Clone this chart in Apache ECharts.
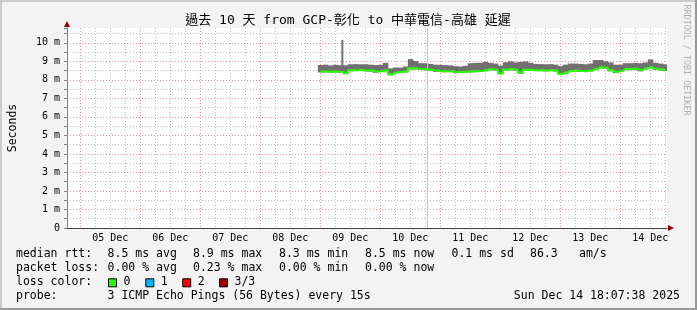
<!DOCTYPE html>
<html><head><meta charset="utf-8">
<script src="https://cdn.jsdelivr.net/npm/echarts@6/dist/echarts.min.js"></script>
<style>html,body{margin:0;padding:0;background:#f3f3f3}#c{width:697px;height:310px}</style>
</head><body><div id="c"></div>
<script>
// ---------- data ----------
const titleText = '過去 10 天 from GCP-彰化 to 中華電信-高雄 延遲';
const yName = 'Seconds';
// x values are hours since 04 Dec 00:00
const viewStart = 18 + 40 / 60;      // 04 Dec 18:40
const viewEnd = viewStart + 240;     // 10 days later
const dayLabelHours = [36, 60, 84, 108, 132, 156, 180, 204, 228, 252];
const dayLabels = ['05 Dec', '06 Dec', '07 Dec', '08 Dec', '09 Dec', '10 Dec', '11 Dec', '12 Dec', '13 Dec', '14 Dec'];
const yMax = 10.8;
const yTickValues = [0, 1, 2, 3, 4, 5, 6, 7, 8, 9, 10];

const sampleStart = 120;   // 09 Dec 00:00
const sampleStep = 2;      // hours
// values in ms
const med = [8.45,8.45,8.44,8.45,8.43,8.37,8.52,8.52,8.53,8.51,
  8.50,8.45,8.47,8.52,8.30,8.40,8.42,8.45,8.63,8.62,
  8.58,8.57,8.54,8.50,8.47,8.46,8.47,8.41,8.42,8.44,
  8.45,8.47,8.48,8.52,8.58,8.55,8.36,8.56,8.58,8.56,
  8.40,8.55,8.54,8.52,8.52,8.51,8.52,8.50,8.32,8.40,
  8.48,8.50,8.48,8.47,8.50,8.60,8.68,8.66,8.52,8.42,
  8.48,8.58,8.58,8.60,8.52,8.62,8.68,8.60,8.56,8.52];
const hi = [8.80,8.82,8.78,8.81,8.79,8.79,8.84,8.85,8.84,8.84,
  8.82,8.80,8.81,8.92,8.62,8.66,8.66,8.72,9.12,9.02,
  8.90,8.90,8.86,8.82,8.81,8.80,8.78,8.74,8.72,8.76,
  8.90,8.92,8.92,8.97,8.92,8.88,8.77,8.95,9.00,8.94,
  8.97,9.00,8.92,8.86,8.85,8.84,8.85,8.82,8.74,8.82,
  8.88,8.88,8.86,8.84,8.88,9.07,9.07,9.00,8.94,8.82,
  8.82,8.90,8.90,8.92,8.90,8.94,9.10,8.92,8.88,8.84];
const lo = [8.40,8.40,8.39,8.40,8.38,8.30,8.46,8.47,8.48,8.46,
  8.44,8.38,8.42,8.45,8.24,8.35,8.37,8.40,8.56,8.56,
  8.53,8.52,8.49,8.43,8.42,8.41,8.42,8.36,8.37,8.39,
  8.40,8.42,8.43,8.46,8.52,8.50,8.30,8.50,8.52,8.50,
  8.33,8.49,8.49,8.47,8.47,8.46,8.47,8.45,8.26,8.34,
  8.43,8.45,8.43,8.42,8.45,8.53,8.62,8.60,8.46,8.36,
  8.43,8.52,8.52,8.54,8.46,8.56,8.62,8.54,8.50,8.47];
const spikeTime = 128.8;
const spikeRange = [8.75, 10.16];
const markerTime = 162.95;

const statLabels = ['median rtt:', 'packet loss:', 'loss color:', 'probe:'];
const rttStats = ['8.5 ms avg', '8.9 ms max', '8.3 ms min', '8.5 ms now', '0.1 ms sd', '86.3', 'am/s'];
const lossStats = ['0.00 % avg', '0.23 % max', '0.00 % min', '0.00 % now'];
const lossColorNames = ['0', '1', '2', '3/3'];
const lossColors = ['#26ff00', '#00b8ff', '#ff0000', '#a00000'];
const probeText = '3 ICMP Echo Pings (56 Bytes) every 15s';
const dateText = 'Sun Dec 14 18:07:38 2025';
const watermark = 'RRDTOOL / TOBI OETIKER';

// ---------- layout / style ----------
const FONT = '"DejaVu Sans Mono", "Noto Sans CJK TC", monospace';
const RED = 'rgba(240,110,110,0.75)';
const GRAY = 'rgba(170,170,170,0.75)';
const gridLeft = 67, gridTop = 28, gridRight = 30, gridBottom = 82;

const gridTicks = [];
for (let h = 24; h < viewEnd; h += 6) gridTicks.push(h);

const times = med.map((_, i) => sampleStart + i * sampleStep);
const smokeData = times.map((t, i) => [t, lo[i], hi[i]]);
const medData = times.map((t, i) => [t, med[i]]);

const rowY = [254.3, 268.3, 282.3, 296.3];
const colX = [107.6, 193, 279, 365, 451.5, 530, 579];
const boxX = [108, 145.3, 182.2, 219];

const graphics = [];
// frame shading
graphics.push({type:'rect', shape:{x:0,y:0,width:697,height:2}, style:{fill:'#cbcbcb'}, silent:true});
graphics.push({type:'rect', shape:{x:0,y:0,width:2,height:310}, style:{fill:'#cbcbcb'}, silent:true});
graphics.push({type:'rect', shape:{x:0,y:308,width:697,height:2}, style:{fill:'#999999'}, silent:true});
graphics.push({type:'rect', shape:{x:695,y:0,width:2,height:310}, style:{fill:'#999999'}, silent:true});
function txt(x, y, s, size, opts) {
  return Object.assign({type:'text', x:x, y:y, silent:true,
    style:Object.assign({text:s, font:size + 'px ' + FONT, fill:'#000', textAlign:'left', textVerticalAlign:'middle'}, opts || {})});
}
graphics.push(txt(348, 21, titleText, 13, {textAlign:'center'}));
graphics.push({type:'text', x:686, y:60, rotation:-Math.PI/2, silent:true,
  style:{text:watermark, font:'8.4px ' + FONT, fill:'#b0b0b0', textAlign:'center', textVerticalAlign:'middle'}});
statLabels.forEach((s, i) => graphics.push(txt(16, rowY[i], s, 11.5)));
rttStats.forEach((s, i) => graphics.push(txt(colX[i], rowY[0], s, 11.5)));
lossStats.forEach((s, i) => graphics.push(txt(colX[i], rowY[1], s, 11.5)));
lossColorNames.forEach((s, i) => {
  graphics.push({type:'rect', shape:{x:boxX[i] + 0.5, y:rowY[2] - 3.5, width:8, height:8},
    style:{fill:lossColors[i], stroke:'#000', lineWidth:1}, silent:true});
  graphics.push(txt(boxX[i] + 15.5, rowY[2], s, 11.5));
});
graphics.push(txt(107.6, rowY[3], probeText, 11.5));
graphics.push(txt(680, rowY[3], dateText, 11.5, {textAlign:'right'}));
// axis arrows
graphics.push({type:'polygon', shape:{points:[[64,27],[70,27],[67,21]]}, style:{fill:'#900000'}, silent:true});
graphics.push({type:'polygon', shape:{points:[[668,225],[668,231],[674,228]]}, style:{fill:'#900000'}, silent:true});

function renderSmoke(params, api) {
  const t = api.value(0), l = api.value(1), h = api.value(2);
  const a = api.coord([t - sampleStep / 2, h]);
  const b = api.coord([t + sampleStep / 2, l]);
  return {type: 'rect', shape: {x: a[0], y: a[1], width: b[0] - a[0] + 0.6, height: b[1] - a[1]},
    style: {fill: '#707070'}};
}

const option = {
  animation: false,
  backgroundColor: '#f3f3f3',
  grid: {left: gridLeft, top: gridTop, right: gridRight, bottom: gridBottom, show: true, backgroundColor: '#ffffff',
    borderWidth: 0, containLabel: false, outerBoundsMode: 'none'},
  xAxis: {
    type: 'value', min: viewStart, max: viewEnd,
    axisLine: {show: true, onZero: false, lineStyle: {color: '#404040', width: 1}},
    axisTick: {show: false, customValues: gridTicks},
    axisLabel: {customValues: dayLabelHours, formatter: v => { const k = dayLabelHours.indexOf(v); return k >= 0 ? dayLabels[k] : ''; },
      fontFamily: FONT, fontSize: 10, color: '#000', margin: 5},
    splitLine: {show: true, lineStyle: {color: [RED, GRAY, GRAY, GRAY], type: [1, 2], width: 1}}
  },
  yAxis: {
    type: 'value', min: 0, max: yMax, interval: 0.5,
    name: yName, nameLocation: 'middle', nameGap: 48, nameRotate: 90,
    nameTextStyle: {fontFamily: FONT, fontSize: 11.5, color: '#000'},
    axisLine: {show: true, lineStyle: {color: '#808080'}},
    axisTick: {show: true, length: 3, lineStyle: {color: '#808080'}},
    axisLabel: {margin: 7, fontFamily: FONT, fontSize: 10, color: '#000',
      formatter: v => { const k = yTickValues.indexOf(Math.round(v * 1000) / 1000); return k < 0 ? '' : (yTickValues[k] === 0 ? '0' : yTickValues[k] + ' m'); }},
    splitLine: {show: true, showMaxLine: false, lineStyle: {color: [RED, GRAY], type: [1, 2], width: 1}}
  },
  series: [
    {type: 'custom', name: 'smoke', data: smokeData, renderItem: renderSmoke,
      encode: {x: 0, y: [1, 2]}, silent: true, z: 2, clip: true},
    {type: 'line', name: 'spike', data: [[spikeTime, spikeRange[0]], [spikeTime, spikeRange[1]]], symbol: 'none',
      lineStyle: {color: '#707070', width: 2}, silent: true, z: 2},
    {type: 'line', name: 'median', data: medData, step: 'middle', symbol: 'none',
      lineStyle: {color: '#26ff00', width: 2}, silent: true, z: 3},
    {type: 'line', name: 'marker', data: [], symbol: 'none', silent: true, z: 4,
      markLine: {silent: true, symbol: 'none', label: {show: false}, animation: false,
        lineStyle: {color: '#9fd6ea', type: 'solid', width: 1}, data: [{xAxis: markerTime}]}}
  ],
  graphic: graphics
};
const chart = echarts.init(document.getElementById('c'));
chart.setOption(option);
</script>
</body></html>
